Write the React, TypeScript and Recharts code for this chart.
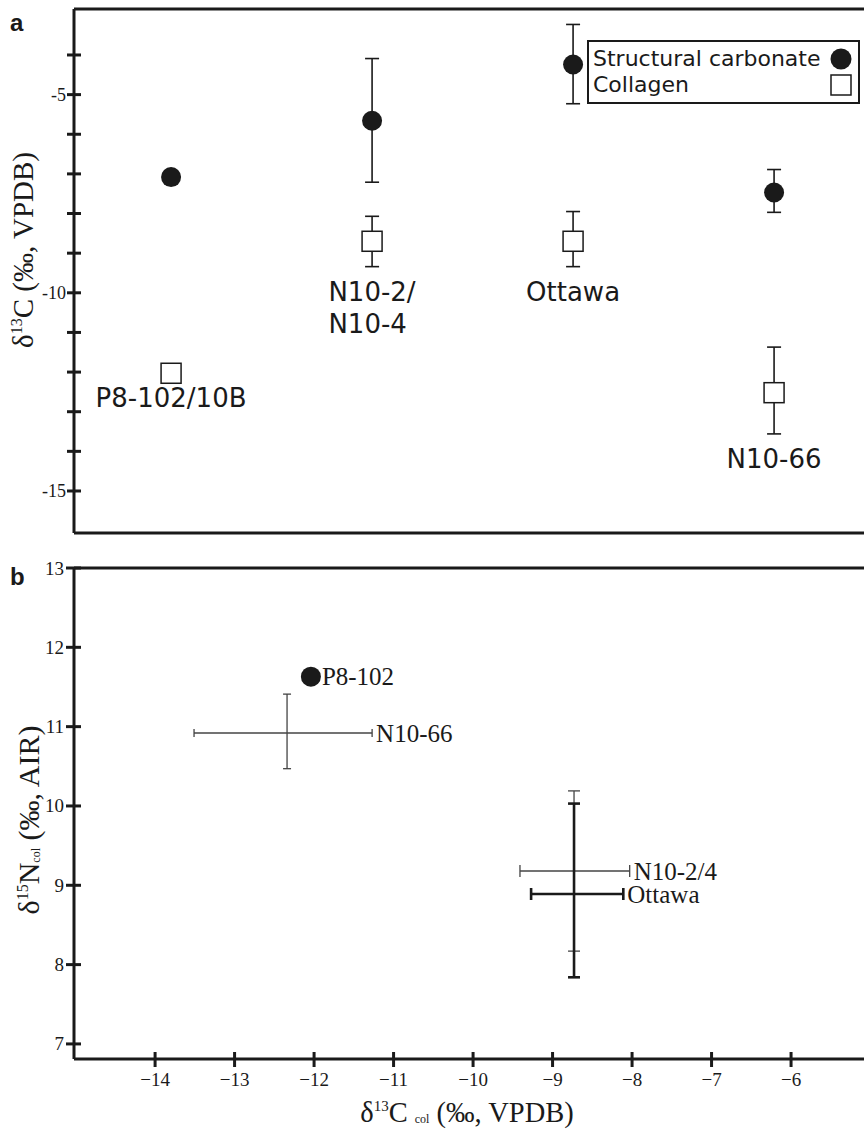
import React from 'react';
import { ScatterChart, Scatter, XAxis, YAxis, ErrorBar, ReferenceLine, Legend, Label } from 'recharts';

const SERIF = '"Liberation Serif", "Times New Roman", serif';
const SANS = '"DejaVu Sans", sans-serif';
const BOLD_SANS = '"Liberation Sans", Arial, sans-serif';
const INK = '#1a1a1a';

// ---------------- Panel a data ----------------
const siteNames = ['P8-102/10B', 'N10-2/\nN10-4', 'Ottawa', 'N10-66'];
const sitePositions = [1, 2, 3, 4];
const carbonateValues = [-7.08, -5.66, -4.24, -7.47];
const carbonateErrors: (number[] | null)[] = [null, [1.55, 1.57], [0.99, 1.01], [0.5, 0.58]];
const collagenValues = [-12.03, -8.7, -8.7, -12.52];
const collagenErrors: (number[] | null)[] = [null, [0.64, 0.63], [0.64, 0.75], [1.04, 1.15]];
const panelATicks = [-4, -5, -6, -7, -8, -9, -10, -11, -12, -13, -14, -15];
const panelALabelledTicks = [-5, -10, -15];
const panelAXDomain = [0.517, 4.527];
const panelAYDomain = [-16.06, -2.84];
const legendOrder = ['Structural carbonate', 'Collagen'];

// ---------------- Panel b data ----------------
const sampleNames = ['P8-102', 'N10-66', 'N10-2/4', 'Ottawa'];
const d13CValues = [-12.04, -12.34, -8.73, -8.73];
const d13CErrors: (number[] | null)[] = [null, [1.17, 1.07], [0.68, 0.7], [0.54, 0.62]];
const d15NValues = [11.63, 10.92, 9.18, 8.89];
const d15NErrors: (number[] | null)[] = [null, [0.45, 0.49], [1.01, 1.01], [1.05, 1.14]];
const panelBXTicks = [-14, -13, -12, -11, -10, -9, -8, -7, -6];
const panelBYTicks = [7, 8, 9, 10, 11, 12, 13];
const panelBXDomain = [-15.02, -4.9];
const panelBYDomain = [6.81, 13];

const sampleStyles: Record<string, { stroke: string; strokeWidth: number; cap: number }> = {
  'N10-66': { stroke: '#444', strokeWidth: 1.3, cap: 4 },
  'N10-2/4': { stroke: '#444', strokeWidth: 1.3, cap: 6 },
  Ottawa: { stroke: INK, strokeWidth: 2.6, cap: 6 },
};

// ---------------- derived tables ----------------
const carbonateData = sitePositions.map((x, i) => ({ x, y: carbonateValues[i], err: carbonateErrors[i] }));
const collagenData = sitePositions.map((x, i) => ({ x, y: collagenValues[i], err: collagenErrors[i] }));
const siteLabelData = sitePositions.map((x, i) => ({
  x,
  y: collagenValues[i] - (collagenErrors[i] ? (collagenErrors[i] as number[])[0] : 0),
  text: siteNames[i],
}));

const sampleData = sampleNames.map((name, i) => ({
  name,
  x: d13CValues[i],
  y: d15NValues[i],
  ex: d13CErrors[i],
  ey: d15NErrors[i],
}));
const sampleLabelData = sampleData.map((d) => ({
  x: d.x + (d.ex ? d.ex[1] : 0),
  y: d.y,
  text: d.name,
  hasErr: !!d.ex,
}));

// ---------------- shapes ----------------
const Nothing = () => <g />;
const FilledCircle = (p: any) => <circle cx={p.cx} cy={p.cy} r={10} fill={INK} />;
const OpenSquare = (p: any) => (
  <rect x={p.cx - 10} y={p.cy - 10} width={20} height={20} fill="#fff" stroke={INK} strokeWidth={1.5} />
);

const SiteLabel = (p: any) => {
  const lines = String(p.payload.text).split('\n');
  const multi = lines.length > 1;
  const longest = Math.max(...lines.map((l) => l.length));
  const x0 = multi ? p.cx - (longest * 26 * 0.56) / 2 : p.cx;
  return (
    <text
      x={x0}
      y={p.cy + 25}
      textAnchor={multi ? 'start' : 'middle'}
      fontFamily={SANS}
      fontSize={26}
      fill={INK}
    >
      {lines.map((l, i) => (
        <tspan key={i} x={x0} dy={i === 0 ? '0.35em' : 32}>
          {l}
        </tspan>
      ))}
    </text>
  );
};

const SampleLabel = (p: any) => (
  <text
    x={p.cx + (p.payload.hasErr ? 4 : 11)}
    y={p.cy}
    dy="0.35em"
    fontFamily={SERIF}
    fontSize={25}
    fill={INK}
  >
    {p.payload.text}
  </text>
);

// ---------------- ticks ----------------
const PanelAYTick = (p: any) => {
  const v = p.payload.value;
  return (
    <g>
      <line x1={p.x - 7} x2={p.x + 7} y1={p.y} y2={p.y} stroke={INK} strokeWidth={3} />
      {panelALabelledTicks.includes(v) && (
        <text x={p.x - 8} y={p.y} dy={6} textAnchor="end" fontFamily={SERIF} fontSize={18} fill={INK}>
          {String(v)}
        </text>
      )}
    </g>
  );
};

const PanelBYTick = (p: any) => (
  <g>
    <line x1={p.x - 8} x2={p.x + 7} y1={p.y} y2={p.y} stroke={INK} strokeWidth={3} />
    <text x={p.x - 10} y={p.y} dy={6.5} textAnchor="end" fontFamily={SERIF} fontSize={19} fill={INK}>
      {String(p.payload.value)}
    </text>
  </g>
);

const PanelBXTick = (p: any) => (
  <g>
    <line x1={p.x} x2={p.x} y1={p.y - 7} y2={p.y + 8} stroke={INK} strokeWidth={3} />
    <text x={p.x} y={p.y + 27} textAnchor="middle" fontFamily={SERIF} fontSize={19} fill={INK}>
      {'\u2212' + String(Math.abs(p.payload.value))}
    </text>
  </g>
);

// ---------------- titles ----------------
const PanelAYTitle = () => (
  <text transform="translate(33, 250) rotate(-90)" textAnchor="middle" fontFamily={SERIF} fontSize={29} fill={INK}>
    δ<tspan fontSize={16} dy={-11}>13</tspan>
    <tspan dy={11}>C (‰, VPDB)</tspan>
  </text>
);

const PanelBYTitle = () => (
  <text transform="translate(39, 280) rotate(-90)" textAnchor="middle" fontFamily={SERIF} fontSize={30} fill={INK}>
    δ<tspan fontSize={16} dy={-11}>15</tspan>
    <tspan dy={11}>N</tspan>
    <tspan fontSize={12} dy={1}>col</tspan>
    <tspan dy={-1}> (‰, AIR)</tspan>
  </text>
);

const PanelBXTitle = () => (
  <text x={467} y={582} textAnchor="middle" fontFamily={SERIF} fontSize={28.5} fill={INK}>
    δ<tspan fontSize={15} dy={-11}>13</tspan>
    <tspan dy={11}>C </tspan>
    <tspan fontSize={12} dy={1}>col</tspan>
    <tspan dy={-1}> (‰, VPDB)</tspan>
  </text>
);

// ---------------- legend ----------------
const renderLegend = (props: any) => {
  const items = legendOrder
    .map((name) => (props.payload || []).find((it: any) => it.value === name))
    .filter(Boolean);
  return (
    <div
      style={{
        width: 273,
        height: 64,
        boxSizing: 'border-box',
        border: `2.5px solid ${INK}`,
        padding: '4px 6px 0 4px',
        fontFamily: SANS,
        fontSize: 22,
        color: INK,
        background: '#fff',
      }}
    >
      {items.map((it: any) => (
        <div
          key={it.value}
          style={{ display: 'flex', justifyContent: 'space-between', alignItems: 'center', height: 26, lineHeight: '26px' }}
        >
          <span>{it.value}</span>
          <svg width={22} height={22} style={{ display: 'block' }}>
            {it.value === 'Collagen' ? (
              <rect x={1} y={1} width={20} height={20} fill="#fff" stroke={INK} strokeWidth={1.5} />
            ) : (
              <circle cx={11} cy={11} r={10.5} fill={INK} />
            )}
          </svg>
        </div>
      ))}
    </div>
  );
};

const PanelA = () => (
  <ScatterChart width={900} height={560} margin={{ top: 9, right: 20, bottom: 0, left: 0 }}>
    <XAxis
      type="number"
      dataKey="x"
      domain={panelAXDomain}
      allowDataOverflow
      height={27}
      tick={false}
      tickLine={false}
      axisLine={{ stroke: INK, strokeWidth: 3 }}
    />
    <YAxis
      type="number"
      dataKey="y"
      domain={panelAYDomain}
      allowDataOverflow
      width={74}
      ticks={panelATicks}
      interval={0}
      tickSize={0}
      tickMargin={0}
      tickLine={false}
      tick={<PanelAYTick />}
      axisLine={{ stroke: INK, strokeWidth: 3 }}
    >
      <Label content={<PanelAYTitle />} />
    </YAxis>
    <ReferenceLine y={panelAYDomain[1]} stroke={INK} strokeWidth={3} ifOverflow="visible" />
    <Scatter
      name="carbonate-err"
      legendType="none"
      data={carbonateData.filter((d) => d.err)}
      shape={<Nothing />}
      isAnimationActive={false}
    >
      <ErrorBar dataKey="err" direction="y" width={7} stroke={INK} strokeWidth={1.6} />
    </Scatter>
    <Scatter
      name="collagen-err"
      legendType="none"
      data={collagenData.filter((d) => d.err)}
      shape={<Nothing />}
      isAnimationActive={false}
    >
      <ErrorBar dataKey="err" direction="y" width={7} stroke={INK} strokeWidth={1.6} />
    </Scatter>
    <Scatter name="Structural carbonate" data={carbonateData} shape={<FilledCircle />} isAnimationActive={false} />
    <Scatter name="Collagen" data={collagenData} shape={<OpenSquare />} isAnimationActive={false} />
    <Scatter name="site-labels" legendType="none" data={siteLabelData} shape={<SiteLabel />} isAnimationActive={false} />
    <Legend
      content={renderLegend}
      layout="horizontal"
      verticalAlign="middle"
      align="center"
      width={273}
      height={64}
      wrapperStyle={{ left: 587, top: 40, width: 273, height: 64 }}
    />
  </ScatterChart>
);

const PanelB = () => (
  <ScatterChart width={900} height={590} margin={{ top: 28, right: 21.5, bottom: 0, left: 0 }}>
    <XAxis
      type="number"
      dataKey="x"
      domain={panelBXDomain}
      allowDataOverflow
      height={71}
      ticks={panelBXTicks}
      interval={0}
      tickSize={0}
      tickMargin={0}
      tickLine={false}
      tick={<PanelBXTick />}
      axisLine={{ stroke: INK, strokeWidth: 3 }}
    >
      <Label content={<PanelBXTitle />} />
    </XAxis>
    <YAxis
      type="number"
      dataKey="y"
      domain={panelBYDomain}
      allowDataOverflow
      width={74}
      ticks={panelBYTicks}
      interval={0}
      tickSize={0}
      tickMargin={0}
      tickLine={false}
      tick={<PanelBYTick />}
      axisLine={{ stroke: INK, strokeWidth: 3 }}
    >
      <Label content={<PanelBYTitle />} />
    </YAxis>
    <ReferenceLine y={panelBYDomain[1]} stroke={INK} strokeWidth={3} ifOverflow="visible" />
    {sampleData
      .filter((d) => d.ex)
      .map((d) => {
        const st = sampleStyles[d.name];
        return (
          <Scatter key={d.name} name={d.name} legendType="none" data={[d]} shape={<Nothing />} isAnimationActive={false}>
            <ErrorBar dataKey="ex" direction="x" width={st.cap} stroke={st.stroke} strokeWidth={st.strokeWidth} />
            <ErrorBar dataKey="ey" direction="y" width={st.cap} stroke={st.stroke} strokeWidth={st.strokeWidth} />
          </Scatter>
        );
      })}
    <Scatter
      name="P8-102"
      legendType="none"
      data={sampleData.filter((d) => !d.ex)}
      shape={<FilledCircle />}
      isAnimationActive={false}
    />
    <Scatter name="sample-labels" legendType="none" data={sampleLabelData} shape={<SampleLabel />} isAnimationActive={false} />
  </ScatterChart>
);

export default function App() {
  return (
    <div
      style={{
        position: 'absolute',
        left: 0,
        top: 0,
        width: 864,
        height: 1130,
        overflow: 'hidden',
        background: '#fff',
      }}
    >
      <div style={{ position: 'absolute', left: 0, top: 0 }}>
        <PanelA />
      </div>
      <div style={{ position: 'absolute', left: 0, top: 540 }}>
        <PanelB />
      </div>
      <div
        style={{
          position: 'absolute',
          left: 10,
          top: 11,
          fontFamily: BOLD_SANS,
          fontWeight: 'bold',
          fontSize: 24,
          lineHeight: 1,
          color: INK,
        }}
      >
        a
      </div>
      <div
        style={{
          position: 'absolute',
          left: 10,
          top: 565,
          fontFamily: BOLD_SANS,
          fontWeight: 'bold',
          fontSize: 24,
          lineHeight: 1,
          color: INK,
        }}
      >
        b
      </div>
    </div>
  );
}
